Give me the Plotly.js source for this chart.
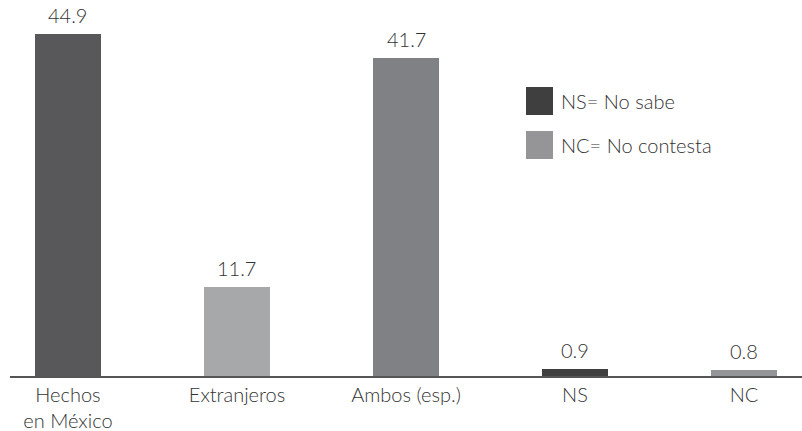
<!DOCTYPE html>
<html>
<head>
<meta charset="utf-8">
<script src="https://cdn.plot.ly/plotly-3.0.1.min.js"></script>
<style>
  html, body { margin: 0; padding: 0; background: #ffffff; }
  #chart { width: 802px; height: 431px; }
</style>
</head>
<body>
<div id="chart"></div>
<script>
// Origen de los productos: porcentajes por respuesta
const categories = ["Hechos<br>en México", "Extranjeros", "Ambos (esp.)", "NS", "NC"];
const values = [44.9, 11.7, 41.7, 0.9, 0.8];
const barColors = ["#58585a", "#a7a8aa", "#808184", "#3f3f40", "#939598"];

// Notas de abreviaturas
const noteLabels = ["NS= No sabe", "NC= No contesta"];
const noteColors = ["#3f3f40", "#959597"];

const fontFamily = "Lato, 'Open Sans', sans-serif";
const textFont = { family: fontFamily, size: 20, color: "#333333", weight: 300 };

const trace = {
  type: "bar",
  x: categories,
  y: values,
  marker: { color: barColors, line: { width: 0 } },
  width: 0.396,
  hoverinfo: "skip",
  showlegend: false
};

// Etiquetas de valor sobre cada barra
const annotations = categories.map((c, i) => ({
  x: c, y: values[i], xref: "x", yref: "y",
  xanchor: "center", yanchor: "bottom", yshift: 5,
  text: values[i].toFixed(1), showarrow: false,
  font: textFont
}));

// Cuadros y textos de las notas, en coordenadas del papel
const shapes = [];
const plotTop = 33, plotH = 343, plotL = 10, plotW = 792;
noteLabels.forEach((label, i) => {
  const y0px = 87 + i * 44;
  shapes.push({
    type: "rect", xref: "paper", yref: "paper",
    x0: (526 - plotL) / plotW, x1: (553 - plotL) / plotW,
    y0: 1 - (y0px + 28 - plotTop) / plotH, y1: 1 - (y0px - plotTop) / plotH,
    fillcolor: noteColors[i], line: { width: 0 }
  });
  annotations.push({
    xref: "paper", yref: "paper",
    x: (559 - plotL) / plotW, y: 1 - (y0px + 14 - plotTop) / plotH,
    xanchor: "left", yanchor: "middle",
    text: label, showarrow: false,
    font: textFont
  });
});

const layout = {
  width: 802, height: 431,
  margin: { l: plotL, r: 0, t: plotTop, b: 55 },
  paper_bgcolor: "#ffffff",
  plot_bgcolor: "#ffffff",
  font: textFont,
  xaxis: {
    type: "category",
    range: [-0.343, 4.343],
    showline: true, linecolor: "#555555", linewidth: 1.5,
    showgrid: false, zeroline: false,
    ticks: "", tickfont: textFont,
    fixedrange: true
  },
  yaxis: {
    range: [0, 45],
    visible: false,
    showgrid: false, zeroline: false,
    fixedrange: true
  },
  shapes: shapes,
  annotations: annotations,
  bargap: 0
};

Plotly.newPlot("chart", [trace], layout, { displayModeBar: false, staticPlot: true });
</script>
</body>
</html>
